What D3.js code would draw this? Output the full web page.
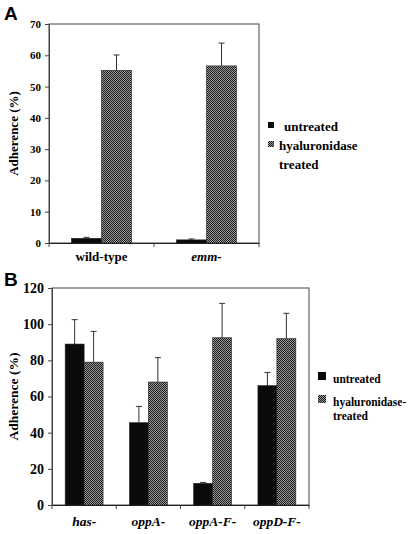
<!DOCTYPE html>
<html><head><meta charset="utf-8">
<script src="https://cdn.jsdelivr.net/npm/d3@7"></script>
<style>body{margin:0;background:#fff}svg{display:block}</style>
</head><body>
<script>
// Panel A data
const catsA = ["wild-type", "emm-"];
const italicA = [false, true];
const untreatedA = [1.5, 1.0];
const untreatedErrA = [0.3, 0.3];
const hyalA = [55.2, 56.6];
const hyalErrA = [4.9, 7.3];
const ticksA = [0, 10, 20, 30, 40, 50, 60, 70];
const legendA = ["untreated", ["hyaluronidase", "treated"]];

// Panel B data
const catsB = ["has-", "oppA-", "oppA-F-", "oppD-F-"];
const untreatedB = [89, 45.5, 12, 66];
const untreatedErrB = [13.5, 9, 0.5, 7.3];
const hyalB = [79, 68, 92.5, 92];
const hyalErrB = [17, 13.5, 19, 14];
const ticksB = [0, 20, 40, 60, 80, 100, 120];
const legendB = ["untreated", ["hyaluronidase-", "treated"]];

const W = 410, H = 534;
const svg = d3.select("body").append("svg").attr("width", W).attr("height", H);
const defs = svg.append("defs");
const pat = defs.append("pattern").attr("id", "chk").attr("width", 2).attr("height", 2)
  .attr("patternUnits", "userSpaceOnUse");
pat.append("rect").attr("width", 2).attr("height", 2).attr("fill", "#9a9a9a");
pat.append("rect").attr("width", 1).attr("height", 1).attr("fill", "#1a1a1a");
pat.append("rect").attr("x", 1).attr("y", 1).attr("width", 1).attr("height", 1).attr("fill", "#1a1a1a");

const serif = "'Liberation Serif', 'Times New Roman', serif";

function panel(o) {
  const g = svg.append("g");
  const x = d3.scaleBand().domain(o.cats).range([o.x0, o.x1]);
  const gw = x.bandwidth() * o.groupFrac;
  const xs = d3.scaleBand().domain(["u", "h"]).range([-gw / 2, gw / 2]);
  const y = d3.scaleLinear().domain([0, o.ymax]).range([o.y0, o.y1]);

  // frame
  g.append("rect").attr("x", o.x0).attr("y", o.y1).attr("width", o.x1 - o.x0).attr("height", o.y0 - o.y1)
    .attr("fill", "none").attr("stroke", "#444").attr("stroke-width", 1);

  // y axis
  const ya = g.append("g").attr("transform", `translate(${o.x0},0)`)
    .call(d3.axisLeft(y).tickValues(o.ticks).tickSize(4).tickPadding(4));
  ya.select(".domain").attr("stroke", "#444");
  ya.selectAll(".tick line").attr("stroke", "#444");
  ya.selectAll("text").attr("font-family", serif).attr("font-weight", "bold")
    .attr("font-size", o.tickFont).attr("fill", "#000");

  // x axis
  const xa = g.append("g").attr("transform", `translate(0,${o.y0})`)
    .call(d3.axisBottom(x).tickSize(0).tickPadding(o.xPad));
  xa.select(".domain").attr("stroke", "#222");
  xa.selectAll("text").attr("font-family", serif).attr("font-weight", "bold")
    .attr("font-size", o.xFont).attr("fill", "#000")
    .attr("font-style", (d, i) => o.italic[i] ? "italic" : "normal");
  // category separators
  g.selectAll(".sep").data(d3.range(o.cats.length + 1)).join("line")
    .attr("x1", i => o.x0 + i * x.step()).attr("x2", i => o.x0 + i * x.step())
    .attr("y1", o.y0).attr("y2", o.y0 + 4).attr("stroke", "#444");

  // bars
  const rows = o.cats.map((c, i) => ({c, u: o.u[i], ue: o.ue[i], h: o.h[i], he: o.he[i]}));
  rows.forEach(r => {
    const cx = x(r.c) + x.bandwidth() / 2;
    [["u", r.u, r.ue, "#0a0a0a"], ["h", r.h, r.he, "url(#chk)"]].forEach(([k, v, e, f]) => {
      const bx = cx + xs(k);
      const mid = bx + xs.bandwidth() / 2;
      g.append("line").attr("x1", mid).attr("x2", mid).attr("y1", y(v)).attr("y2", y(v + e))
        .attr("stroke", "#333").attr("stroke-width", 1);
      g.append("line").attr("x1", mid - 3).attr("x2", mid + 3).attr("y1", y(v + e)).attr("y2", y(v + e))
        .attr("stroke", "#333").attr("stroke-width", 1);
      g.append("rect").attr("x", bx).attr("y", y(v)).attr("width", xs.bandwidth()).attr("height", y(0) - y(v))
        .attr("fill", f).attr("stroke", "#222").attr("stroke-width", 0.6);
    });
  });

  // y title
  g.append("text").attr("transform", `translate(${o.titleX},${(o.y0 + o.y1) / 2}) rotate(-90)`)
    .attr("text-anchor", "middle").attr("font-family", serif).attr("font-weight", "bold")
    .attr("font-size", o.titleFont).text("Adherence (%)");

  // legend
  const lg = g.append("g");
  o.legend.forEach((lab, i) => {
    const ly = o.legY[i];
    lg.append("rect").attr("x", o.legX).attr("y", ly - o.sq + 1).attr("width", o.sq).attr("height", o.sq)
      .attr("fill", i === 0 ? "#0a0a0a" : "url(#chk)");
    const lines = Array.isArray(lab) ? lab : [lab];
    lines.forEach((t, j) => {
      lg.append("text").attr("x", (j === 0 ? o.legTX[i] : o.legTX2)).attr("y", ly + 4 + j * o.legLH)
        .attr("font-family", serif).attr("font-weight", "bold").attr("font-size", o.legFont).text(t);
    });
  });

  // panel letter
  svg.append("text").attr("x", o.letterX).attr("y", o.letterY).attr("font-family", "'Liberation Sans', Arial, sans-serif")
    .attr("font-weight", "bold").attr("font-size", 19).text(o.letter);
}

panel({
  cats: catsA, italic: italicA, u: untreatedA, ue: untreatedErrA, h: hyalA, he: hyalErrA,
  ticks: ticksA, ymax: 70, x0: 49, x1: 259, y0: 243, y1: 24, groupFrac: 0.572,
  tickFont: 11, xFont: 13, xPad: 9, titleFont: 13, titleX: 18,
  legend: legendA, legX: 268, sq: 6, legY: [127, 146], legTX: [284, 279], legTX2: 279, legLH: 19, legFont: 13,
  letter: "A", letterX: 4, letterY: 20
});

panel({
  cats: catsB, italic: [true, true, true, true], u: untreatedB, ue: untreatedErrB, h: hyalB, he: hyalErrB,
  ticks: ticksB, ymax: 120, x0: 52, x1: 309, y0: 505, y1: 288, groupFrac: 0.59,
  tickFont: 14, xFont: 13.5, xPad: 11, titleFont: 13.5, titleX: 18,
  legend: legendB, legX: 318, sq: 8, legY: [379, 402], legTX: [333, 333], legTX2: 333, legLH: 14, legFont: 11.5,
  letter: "B", letterX: 4, letterY: 286
});
</script>
</body></html>
